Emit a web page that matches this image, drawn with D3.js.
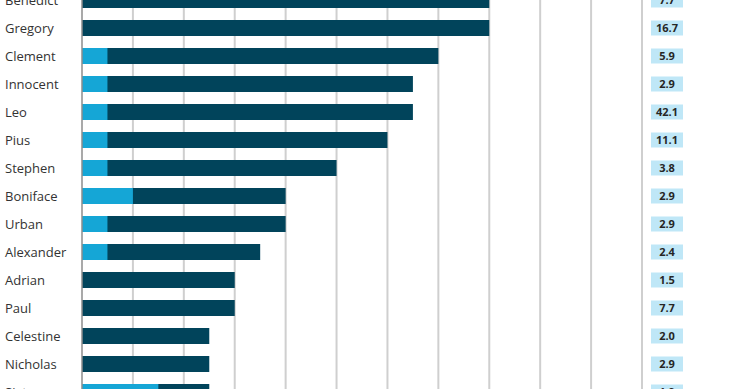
<!DOCTYPE html>
<html>
<head>
<meta charset="utf-8">
<script src="https://cdn.jsdelivr.net/npm/d3@7"></script>
<style>
  body { margin: 0; background: #fff; }
  svg { display: block; }
  text { font-family: "Open Sans", "Noto Sans", sans-serif; }
</style>
</head>
<body>
<svg></svg>
<script>
// popes' names, cropped chart
var names = ['Benedict','Gregory','Clement','Innocent','Leo','Pius','Stephen',
             'Boniface','Urban','Alexander','Adrian','Paul','Celestine','Nicholas','Sixtus'];
var totals = [16,16,14,13,13,12,10,8,8,7,6,6,5,5,5];
var firsts = [0,0,1,1,1,1,1,2,1,1,0,0,0,0,3];
var sideValues = ['7.7','16.7','5.9','2.9','42.1','11.1','3.8','2.9','2.9','2.4','1.5','7.7','2.0','2.9','1.9'];
var ticks = d3.range(1, 23);

var w = 740;
var h = 389;

var svg = d3.select('svg')
            .attr('width', w)
            .attr('height', h);

var x = d3.scaleLinear()
          .domain([0, 22])
          .range([82, 642]);

// row centres every 28px, first row sits on the top edge
var y = d3.scalePoint()
          .domain(names)
          .range([0, 28 * (names.length - 1)]);

var barH = 16;

// gridlines
svg.append('g')
   .selectAll('line')
   .data(ticks.filter(function(t){ return t % 2 == 0; }))
   .enter()
   .append('line')
   .attr('x1', function(d){ return x(d); })
   .attr('x2', function(d){ return x(d); })
   .attr('y1', 0)
   .attr('y2', h)
   .attr('stroke', '#cfcfcf')
   .attr('stroke-width', 2);

var rows = svg.append('g')
              .selectAll('g')
              .data(names)
              .enter()
              .append('g')
              .attr('transform', function(d){ return 'translate(0,' + y(d) + ')'; });

rows.append('rect')
    .attr('x', x(0))
    .attr('y', -barH / 2)
    .attr('height', barH)
    .attr('width', function(d, i){ return x(totals[i]) - x(0); })
    .attr('fill', '#01445b');

rows.append('rect')
    .attr('x', x(0))
    .attr('y', -barH / 2)
    .attr('height', barH)
    .attr('width', function(d, i){ return x(firsts[i]) - x(0); })
    .attr('fill', '#15a6d6');

rows.append('text')
    .attr('x', 5)
    .attr('dy', '0.35em')
    .attr('font-size', 13)
    .attr('fill', '#333')
    .text(function(d){ return d; });

rows.append('rect')
    .attr('x', 651)
    .attr('y', -7.5)
    .attr('width', 32)
    .attr('height', 15)
    .attr('fill', '#bfe7f7');

rows.append('text')
    .attr('x', 667)
    .attr('dy', '0.35em')
    .attr('text-anchor', 'middle')
    .attr('font-size', 11)
    .attr('font-weight', 'bold')
    .attr('fill', '#262626')
    .text(function(d, i){ return sideValues[i]; });

// left axis line
svg.append('line')
   .attr('x1', x(0))
   .attr('x2', x(0))
   .attr('y1', 0)
   .attr('y2', h)
   .attr('stroke', '#8c8c8c')
   .attr('stroke-width', 1.5);
</script>
</body>
</html>
